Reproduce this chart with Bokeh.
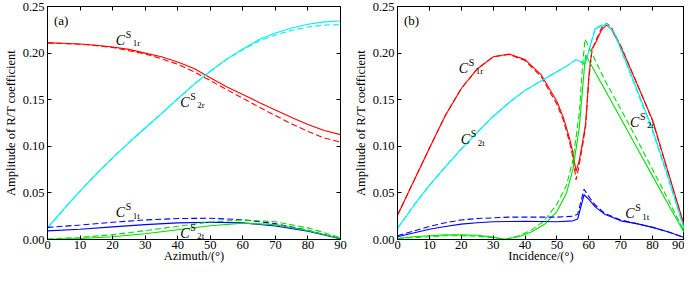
from bokeh.plotting import figure
from bokeh.models import Range1d, LinearAxis, FixedTicker, Label, NumeralTickFormatter, ColumnDataSource, CustomJSTickFormatter
from bokeh.layouts import row
from bokeh.embed import file_html
from bokeh.resources import INLINE
from bokeh.core.properties import value

FONT = "'Liberation Serif', 'Times New Roman', serif"

# ---------------- Panel (a): Azimuth ----------------
az = [0, 5, 10, 15, 20, 25, 30, 35, 40, 45, 50, 55, 60, 65, 70, 75, 80, 85, 90]
a_c1r = [0.211, 0.2105, 0.2098, 0.2085, 0.2065, 0.204, 0.200, 0.196, 0.1905, 0.1835, 0.1735, 0.164, 0.1555, 0.147, 0.139, 0.131, 0.1235, 0.117, 0.1125]
a_c1r_d = [0.211, 0.2103, 0.2095, 0.208, 0.206, 0.2025, 0.199, 0.194, 0.188, 0.180, 0.1705, 0.161, 0.1515, 0.142, 0.133, 0.124, 0.116, 0.109, 0.1045]
a_c2r = [0.0125, 0.0325, 0.052, 0.0705, 0.0875, 0.104, 0.1196, 0.135, 0.151, 0.1665, 0.1805, 0.1935, 0.2045, 0.2145, 0.2215, 0.227, 0.231, 0.2335, 0.2345]
a_c2r_d = [0.0125, 0.0325, 0.052, 0.0705, 0.0875, 0.104, 0.1196, 0.135, 0.151, 0.1665, 0.1805, 0.1930, 0.2035, 0.213, 0.2195, 0.2245, 0.228, 0.230, 0.2305]
az10 = [0, 10, 20, 30, 40, 50, 60, 70, 80, 90]
a_c1t = [0.0093, 0.011, 0.0135, 0.016, 0.0178, 0.0185, 0.0178, 0.0145, 0.009, 0.0008]
a_c1t_d = [0.013, 0.0155, 0.0185, 0.021, 0.0225, 0.0228, 0.0212, 0.017, 0.0098, 0.0008]
a_c2t = [0.0003, 0.001, 0.003, 0.0062, 0.0105, 0.0148, 0.0175, 0.016, 0.0095, 0.001]
a_c2t_d = [0.0005, 0.0022, 0.0052, 0.0095, 0.0142, 0.0188, 0.021, 0.019, 0.0125, 0.002]

# ---------------- Panel (b): Incidence ----------------
b_x_c1r = [0, 5, 10, 15, 20, 25, 30, 35, 40, 45, 50, 52, 54, 55, 56, 57, 58, 59, 60, 61, 62, 64, 65.5, 67, 70, 75, 80, 85, 90]
b_c1r = [0.026, 0.062, 0.098, 0.133, 0.162, 0.183, 0.196, 0.199, 0.193, 0.177, 0.148, 0.131, 0.108, 0.093, 0.073, 0.085, 0.104, 0.124, 0.175, 0.205, 0.210, 0.225, 0.230, 0.226, 0.207, 0.168, 0.128, 0.071, 0.014]
b_c1r_d = [0.026, 0.062, 0.098, 0.133, 0.162, 0.183, 0.196, 0.1985, 0.192, 0.175, 0.145, 0.128, 0.104, 0.088, 0.064, 0.080, 0.100, 0.122, 0.172, 0.203, 0.212, 0.227, 0.232, 0.228, 0.208, 0.168, 0.127, 0.070, 0.013]
b_x_c2t = [0, 5, 10, 15, 20, 25, 30, 35, 40, 45, 50, 53, 56, 58.8, 62, 65.5, 68, 70, 75, 80, 85, 90]
b_c2t = [0.012, 0.036, 0.058, 0.078, 0.097, 0.115, 0.132, 0.147, 0.160, 0.170, 0.180, 0.186, 0.193, 0.188, 0.226, 0.231, 0.222, 0.205, 0.162, 0.118, 0.066, 0.010]
b_c2t_d = [0.012, 0.036, 0.058, 0.078, 0.097, 0.115, 0.132, 0.147, 0.160, 0.170, 0.180, 0.186, 0.193, 0.189, 0.227, 0.232, 0.221, 0.204, 0.160, 0.116, 0.064, 0.010]
b_x_c2r = [0, 5, 10, 15, 20, 25, 30, 34, 38, 42, 46, 50, 53, 55, 57, 58.5, 59, 65, 70, 75, 80, 85, 90]
b_c2r = [0.001, 0.003, 0.004, 0.005, 0.005, 0.0045, 0.0025, 0.0003, 0.003, 0.008, 0.016, 0.030, 0.050, 0.075, 0.120, 0.180, 0.198, 0.161, 0.130, 0.099, 0.068, 0.037, 0.007]
b_x_c2r_d = [0, 5, 10, 15, 20, 25, 30, 34, 38, 42, 46, 50, 53, 55, 57, 58, 58.8, 65, 70, 75, 80, 85, 90]
b_c2r_d = [0.001, 0.002, 0.003, 0.004, 0.004, 0.0035, 0.002, 0.0003, 0.004, 0.010, 0.020, 0.038, 0.058, 0.085, 0.135, 0.185, 0.215, 0.171, 0.140, 0.108, 0.075, 0.042, 0.008]
b_x_c1t = [0, 5, 10, 15, 20, 25, 30, 35, 40, 45, 50, 55, 56.5, 58.5, 60, 62, 65, 70, 75, 80, 85, 90]
b_c1t = [0.003, 0.007, 0.011, 0.014, 0.0165, 0.018, 0.019, 0.0193, 0.0195, 0.0193, 0.019, 0.020, 0.022, 0.048, 0.043, 0.035, 0.027, 0.020, 0.017, 0.013, 0.008, 0.002]
b_c1t_d = [0.004, 0.009, 0.014, 0.018, 0.021, 0.0225, 0.0232, 0.024, 0.024, 0.024, 0.024, 0.025, 0.027, 0.054, 0.046, 0.037, 0.028, 0.021, 0.017, 0.013, 0.008, 0.002]

# curve labels: x, y, subscript
a_lab_x = [21.0, 40.8, 21.0, 40.8]
a_lab_y = [0.214, 0.147, 0.0285, 0.0065]
a_lab_sub = ["1r", "2r", "1t", "2t"]
b_lab_x = [19.2, 19.8, 72.9, 71.4]
b_lab_y = [0.184, 0.107, 0.126, 0.0276]
b_lab_sub = ["1r", "2t", "2r", "1t"]

x_ticks = [0, 10, 20, 30, 40, 50, 60, 70, 80, 90]
y_ticks = [0, 0.05, 0.10, 0.15, 0.20, 0.25]

RED = "#ff0000"
CYAN = "#00f0f0"
BLUE = "#0000ff"
GREEN = "#00e000"
LW = 1.1
DASH = "6 3"


def make_fig(xlabel, panel, width, left, right):
    p = figure(width=width, height=265, x_range=Range1d(0, 90), y_range=Range1d(0, 0.25),
               output_backend="svg", toolbar_location=None,
               min_border_left=left, min_border_right=right, min_border_top=6, min_border_bottom=0)
    p.grid.visible = False
    p.outline_line_color = "black"
    p.outline_line_width = 1
    p.background_fill_color = "white"
    p.border_fill_color = "white"
    p.xaxis.ticker = FixedTicker(ticks=x_ticks)
    p.yaxis.ticker = FixedTicker(ticks=y_ticks)
    p.yaxis.formatter = NumeralTickFormatter(format="0.00")
    p.xaxis.axis_label = xlabel
    p.yaxis.axis_label = "Amplitude of R/T coefficient"
    for ax in [p.xaxis[0], p.yaxis[0]]:
        ax.major_tick_in = 4
        ax.major_tick_out = 0
        ax.minor_tick_in = 0
        ax.minor_tick_out = 0
        ax.axis_line_color = "black"
        ax.major_tick_line_color = "black"
        ax.major_label_text_font = FONT
        ax.major_label_text_font_size = "12.5px"
        ax.major_label_text_color = "black"
        ax.axis_label_text_font = FONT
        ax.axis_label_text_font_size = "12.5px"
        ax.axis_label_text_font_style = "normal"
        ax.axis_label_text_color = "black"
        ax.major_label_standoff = 3
        ax.axis_label_standoff = 2
    p.xaxis.major_label_standoff = 1
    p.xaxis.axis_label_standoff = -3
    for loc, tk in [("above", x_ticks), ("right", y_ticks)]:
        ax = LinearAxis(ticker=FixedTicker(ticks=tk), formatter=CustomJSTickFormatter(code="return ''"),
                        major_label_text_font_size="1px",
                        major_label_standoff=0, major_tick_in=4, major_tick_out=0,
                        minor_tick_in=0, minor_tick_out=0, axis_line_color="black")
        p.add_layout(ax, loc)
    p.add_layout(Label(x=2.0, y=0.2345, text=panel, text_font=FONT, text_font_size="13px",
                       text_baseline="middle", text_color="black"))
    return p


def add_labels(p, xs, ys, subs):
    src = ColumnDataSource(dict(x=xs, y=ys, c=["C"] * len(xs), s=["S"] * len(xs), sub=subs))
    p.text(x="x", y="y", text="c", source=src, text_font=value(FONT), text_font_style="italic",
           text_font_size="14px", text_baseline="middle", text_align="left", text_color="black")
    p.text(x="x", y="y", text="s", source=src, text_font=value(FONT), x_offset=10, y_offset=-6,
           text_font_size="10px", text_baseline="middle", text_align="left", text_color="black")
    p.text(x="x", y="y", text="sub", source=src, text_font=value(FONT), x_offset=17, y_offset=3,
           text_font_size="9px", text_baseline="middle", text_align="left", text_color="black")


pa = make_fig("Azimuth/(°)", "(a)", 350, 42, 10)
pa.line(az, a_c1r, color=RED, line_width=LW)
pa.line(az, a_c1r_d, color=RED, line_width=LW, line_dash=DASH)
pa.line(az, a_c2r, color=CYAN, line_width=LW)
pa.line(az, a_c2r_d, color=CYAN, line_width=LW, line_dash=DASH)
pa.line(az10, a_c1t, color=BLUE, line_width=LW)
pa.line(az10, a_c1t_d, color=BLUE, line_width=LW, line_dash=DASH)
pa.line(az10, a_c2t, color=GREEN, line_width=LW)
pa.line(az10, a_c2t_d, color=GREEN, line_width=LW, line_dash=DASH)
add_labels(pa, a_lab_x, a_lab_y, a_lab_sub)

pb = make_fig("Incidence/(°)", "(b)", 334, 42, 0)
pb.line(b_x_c1r, b_c1r, color=RED, line_width=LW)
pb.line(b_x_c1r, b_c1r_d, color=RED, line_width=LW, line_dash=DASH)
pb.line(b_x_c2t, b_c2t, color=CYAN, line_width=LW)
pb.line(b_x_c2t, b_c2t_d, color=CYAN, line_width=LW, line_dash=DASH)
pb.line(b_x_c2r, b_c2r, color=GREEN, line_width=LW)
pb.line(b_x_c2r_d, b_c2r_d, color=GREEN, line_width=LW, line_dash=DASH)
pb.line(b_x_c1t, b_c1t, color=BLUE, line_width=LW)
pb.line(b_x_c1t, b_c1t_d, color=BLUE, line_width=LW, line_dash=DASH)
add_labels(pb, b_lab_x, b_lab_y, b_lab_sub)

layout = row(pa, pb, spacing=0)
open("out.html", "w").write(file_html(layout, INLINE))
